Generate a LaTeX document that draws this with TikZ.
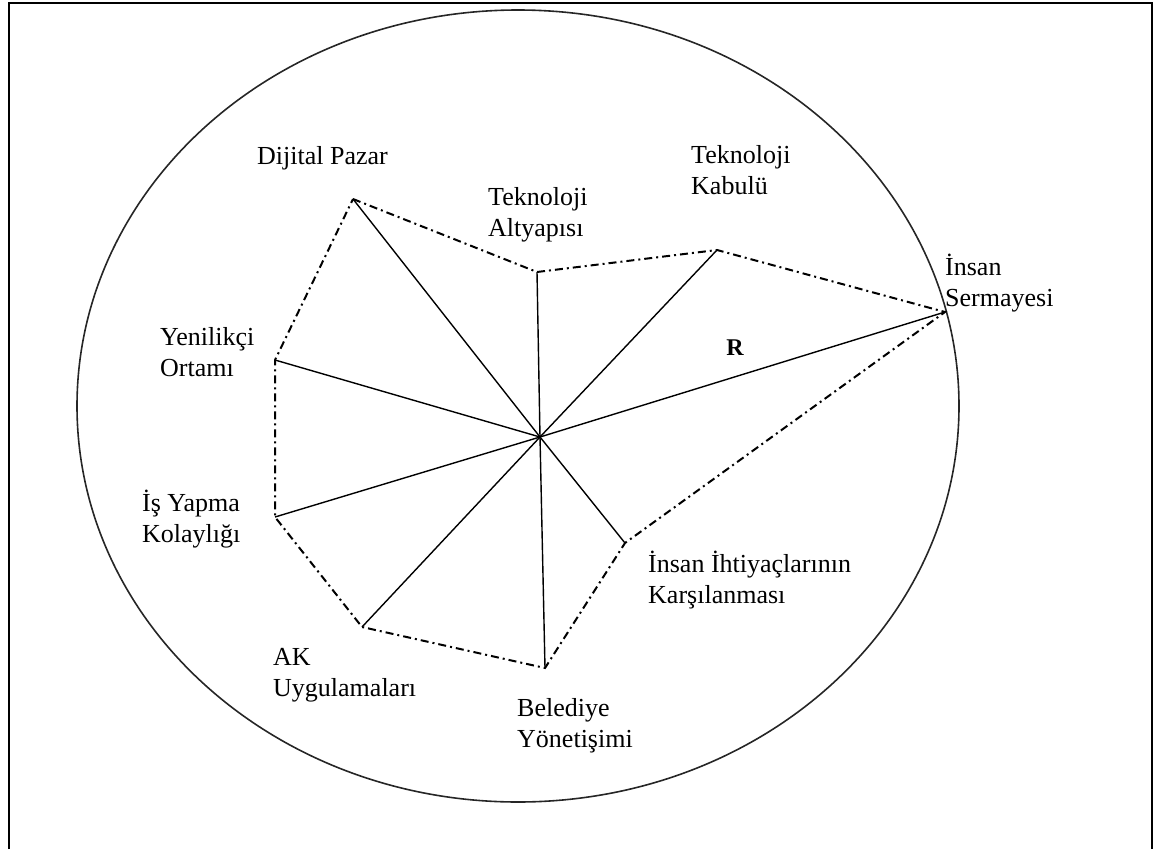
\documentclass[tikz,border=0pt]{standalone}
\usepackage{fontspec}
\setmainfont{Liberation Serif}
\begin{document}
\begin{tikzpicture}[x=1pt,y=-1pt,
  spoke/.style={line width=1.4pt,black},
  rim/.style={line width=2pt,black,dash pattern=on 8pt off 4pt on 2pt off 4pt},
  lbl/.style={font=\fontsize{26}{31}\selectfont,align=left,inner sep=0pt,anchor=base west},
  frameline/.style={line width=2.8pt,black}]
\useasboundingbox (0,0) rectangle (1167,849);
% open frame (no bottom edge)
\draw[frameline] (9,849) -- (9,3) -- (1152,3) -- (1152,849);
% outer ellipse
\draw[line width=1.6pt,black!85] (518,406) ellipse [x radius=441, y radius=396];
% hub and polygon corners
\coordinate (O) at (540,437);
\coordinate (dp) at (353,199);
\coordinate (ta) at (537,272);
\coordinate (tk) at (717,250);
\coordinate (is) at (945,312);
\coordinate (ii) at (625,543);
\coordinate (by) at (545,668);
\coordinate (ak) at (362,627);
\coordinate (iy) at (275,517);
\coordinate (yo) at (275,360);
% spokes
\foreach \p in {dp,ta,tk,is,ii,by,ak,iy,yo}
  \draw[spoke] (O) -- (\p);
% dash-dot outline
\draw[rim] (dp) -- (ta) -- (tk) -- (is) -- (ii) -- (by) -- (ak) -- (iy) -- (yo) -- cycle;
% labels (base anchor sits on the last line)
\node[lbl] (Ldp) at (257,164) {Dijital Pazar};
\node[lbl] (Lta) at (488,236) {Teknoloji\\Altyapısı};
\node[lbl] (Ltk) at (691,194) {Teknoloji\\Kabulü};
\node[lbl] (Lis) at (945,306) {İnsan\\Sermayesi};
\node[lbl] (Lyo) at (160,376) {Yenilikçi\\Ortamı};
\node[lbl] (Liy) at (142,542) {İş Yapma\\Kolaylığı};
\node[lbl] (Lak) at (273,696) {AK\\Uygulamaları};
\node[lbl] (Lby) at (517,747) {Belediye\\Yönetişimi};
\node[lbl] (Lii) at (648,603) {İnsan İhtiyaçlarının\\Karşılanması};
\node[font=\fontsize{24}{28}\selectfont\bfseries,inner sep=0pt] (R) at (735,348) {R};
\end{tikzpicture}
\end{document}
